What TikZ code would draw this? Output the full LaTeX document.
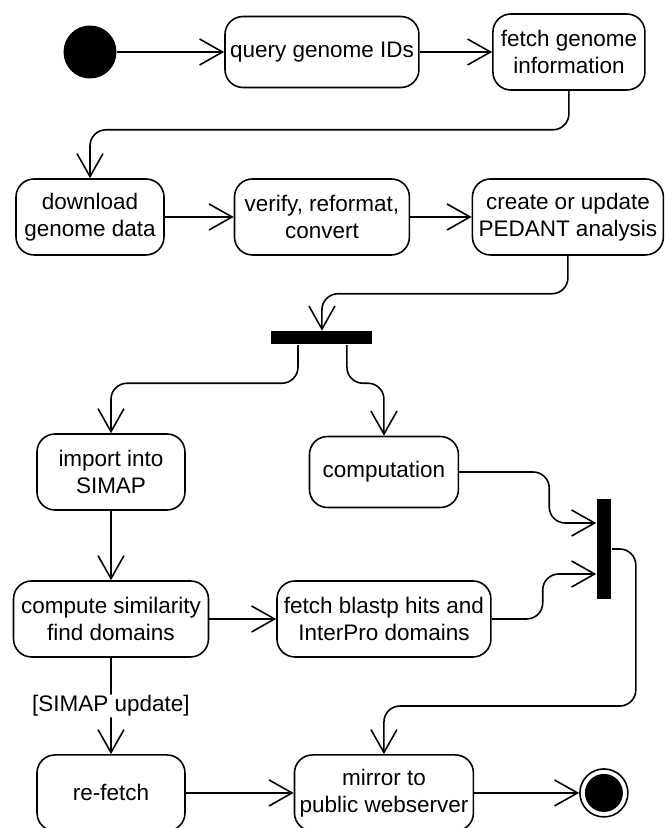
\documentclass[tikz,border=0pt]{standalone}
\usepackage{fontspec}
\setmainfont{Liberation Sans}
\usetikzlibrary{arrows.meta}

\begin{document}
\begin{tikzpicture}[x=0.02cm,y=-0.02cm,>={Straight Barb[length=0.46cm,width=0.52cm]},line width=0.9pt,
    activity/.style={draw,rounded corners=0.36cm,align=center,inner sep=1pt,minimum width=2.96cm,minimum height=1.52cm,font=\fontsize{12.8}{15.3}\selectfont},
    startnode/.style={circle,fill=black,inner sep=0pt,minimum size=1.06cm},
    endnode/.style={circle,draw,inner sep=0pt,minimum size=0.96cm,path picture={\fill (path picture bounding box.center) circle (0.38cm);}},
    bar/.style={fill=black,inner sep=0pt},
    flow/.style={->,rounded corners=0.32cm}]
    \useasboundingbox (0,0) rectangle (665,828);

    \node[startnode] (start) at (90,52) {};
    \node[activity,minimum width=3.88cm,minimum height=1.42cm] (query) [right of=start,node distance=4.64cm] {query genome IDs};
    \node[activity,minimum width=3.04cm] (fetch) [right of=query,node distance=4.94cm] {fetch genome\\information};

    \node[activity] (download) [below of=start,node distance=3.3cm] {download\\genome data};
    \node[activity,minimum width=3.5cm] (verify) [right of=download,node distance=4.64cm] {verify, reformat,\\convert};
    \node[activity,minimum width=3.82cm] (pedant) [right of=verify,node distance=4.92cm] {create or update\\PEDANT analysis};

    \node[bar,minimum width=2.02cm,minimum height=0.26cm] (fork) [below of=verify,node distance=2.42cm] {};

    \node[activity] (import) at (111,472) {import into\\SIMAP};
    \node[activity,minimum width=2.98cm,minimum height=1.42cm] (comp) [right of=import,node distance=5.46cm] {computation};
    \node[activity,minimum width=3.9cm] (similar) [below of=import,node distance=2.94cm] {compute similarity\\find domains};
    \node[activity,minimum width=4.28cm] (blastp) [right of=similar,node distance=5.46cm] {fetch blastp hits and\\InterPro domains};

    \node[bar,minimum width=0.28cm,minimum height=2cm] (join) at (604,549) {};

    \node[activity] (refetch) [below of=similar,node distance=3.48cm] {re-fetch};
    \node[activity,minimum width=3.58cm] (mirror) [right of=refetch,node distance=5.46cm] {mirror to\\public webserver};
    \node[endnode] (end) [right of=mirror,node distance=4.4cm] {};

    \draw[flow] (start) -- (query);
    \draw[flow] (query) -- (query -| fetch.west);
    \draw[flow] (fetch.south) -- ++(0,39) -| (download.north);
    \draw[flow] (download) -- (verify);
    \draw[flow] (verify) -- (pedant);
    \draw[flow] (pedant.south) -- ++(0,38) -| (fork.north);

    % fork
    \draw[flow] ([xshift=-0.48cm]fork.south) -- ++(0,38) -| (import.north);
    \draw[flow] ([xshift=0.5cm]fork.south) -- ++(0,38) -| (comp.north);

    \draw[flow] (import) -- (similar);
    \draw[flow] (similar) -- (blastp);
    \draw[flow] (similar) -- node[fill=white,inner sep=0.5pt,font=\fontsize{12.8}{15}\selectfont] {[SIMAP update]} (refetch);

    % join
    \draw[flow] (comp.east) -- ++(90,0) |- ([yshift=0.52cm]join.west);
    \draw[flow] (blastp.east) -- ++(51,0) |- ([yshift=-0.5cm]join.west);
    \draw[flow] (join.east) -- ++(24,0) -- ++(0,157) -| (mirror.north);

    \draw[flow] (refetch) -- (mirror);
    \draw[flow] (mirror) -- (end);
\end{tikzpicture}
\end{document}
